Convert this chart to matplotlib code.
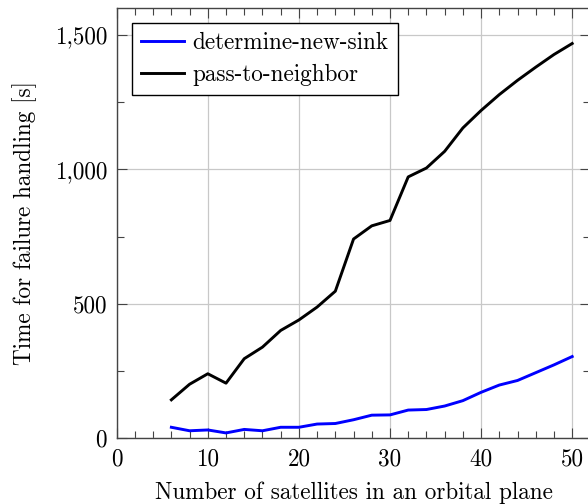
import matplotlib
matplotlib.use("Agg")
import matplotlib.pyplot as plt
from matplotlib.ticker import MultipleLocator, FuncFormatter

plt.rcParams['font.family'] = ['cmr10', 'DejaVu Serif']
plt.rcParams['mathtext.fontset'] = 'cm'
plt.rcParams['axes.unicode_minus'] = False

satellites = [6, 8, 10, 12, 14, 16, 18, 20, 22, 24, 26, 28, 30, 32, 34, 36, 38, 40, 42, 44, 46, 48, 50]
determine_new_sink = [41, 28, 31, 20, 33, 28, 41, 41, 53, 55, 69, 86, 87, 105, 107, 120, 140, 171, 198, 215, 244, 273, 304]
pass_to_neighbor = [143, 201, 240, 205, 296, 339, 401, 440, 488, 547, 741, 790, 810, 972, 1005, 1067, 1154, 1219, 1278, 1331, 1380, 1427, 1468]

FS = 16.7

fig = plt.figure(figsize=(5.88, 5.04), dpi=100)
ax = fig.add_axes([116.7 / 588, 65.7 / 504, 473.7 / 588, 430.3 / 504])

ax.plot(satellites, determine_new_sink, color=(0, 0, 1), lw=2.1, label='determine-new-sink', zorder=3)
ax.plot(satellites, pass_to_neighbor, color='black', lw=2.1, label='pass-to-neighbor', zorder=3)

ax.set_xlim(0, 52)
ax.set_ylim(0, 1600)
ax.xaxis.set_major_locator(MultipleLocator(10))
ax.xaxis.set_minor_locator(MultipleLocator(2))
ax.yaxis.set_major_locator(MultipleLocator(500))
ax.yaxis.set_minor_locator(MultipleLocator(250))
ax.yaxis.set_major_formatter(FuncFormatter(lambda v, p: f"{int(v):,}"))

ax.grid(True, which='major', color='#c8c8c8', lw=0.9, zorder=0)
ax.set_axisbelow(True)
for s in ax.spines.values():
    s.set_color('#444444')
    s.set_linewidth(1.0)

ax.tick_params(which='both', direction='in', top=True, right=True, color='#444444', width=0.8)
ax.tick_params(which='major', length=7.5, labelsize=FS)
ax.tick_params(which='minor', length=5)
ax.tick_params(axis='x', which='major', pad=7)
ax.tick_params(axis='y', which='major', pad=7)

ax.set_xlabel('Number of satellites in an orbital plane', fontsize=FS, labelpad=8)
ax.set_ylabel('Time for failure handling [s]', fontsize=FS, labelpad=13)

leg = ax.legend(loc='upper left', bbox_to_anchor=(15.0 / 473.7, 1 - 14.7 / 430.3), fontsize=FS,
                frameon=True, fancybox=False, edgecolor='black', framealpha=1,
                handlelength=1.85, handletextpad=0.36, borderpad=0.4, labelspacing=0.42,
                borderaxespad=0)
leg.get_frame().set_linewidth(1.0)

fig.savefig('out.png', dpi=100)
